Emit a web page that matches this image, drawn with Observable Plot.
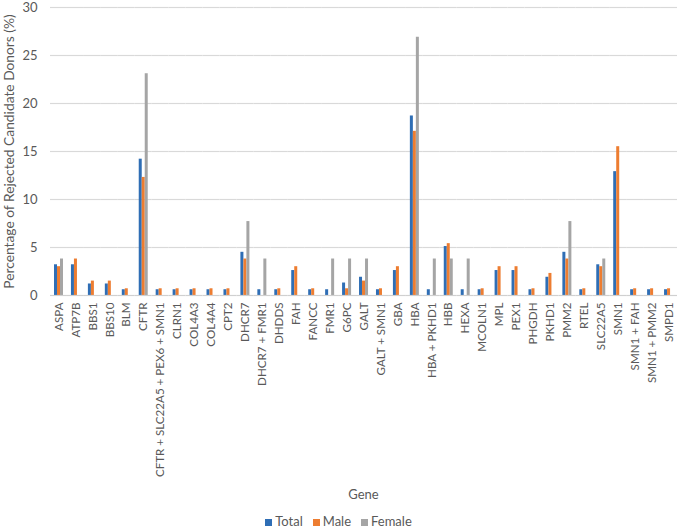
<!DOCTYPE html>
<html>
<head>
<meta charset="utf-8">
<script src="https://cdn.jsdelivr.net/npm/d3@7"></script>
<script src="https://cdn.jsdelivr.net/npm/@observablehq/plot@0.6"></script>
<style>
  html, body { margin: 0; padding: 0; background: #fff; font-family: Lato, "Open Sans", sans-serif; }
  #wrap { width: 677px; height: 528px; position: relative; overflow: hidden; }
  #chart { position: absolute; left: 0; top: 0; }
  #xtitle { position: absolute; left: 50px; width: 627px; top: 486px; text-align: center; font-size: 13px; line-height: 16px; color: #595959; }
  #legend { position: absolute; left: 0; width: 677px; top: 513px; text-align: center; font-size: 13px; line-height: 16px; color: #595959; }
  #legend span.item { margin: 0 5px; }
  #legend span.sw { display: inline-block; width: 7px; height: 7px; margin-right: 3px; }
</style>
</head>
<body>
<div id="wrap">
  <div id="chart"></div>
  <div id="xtitle">Gene</div>
  <div id="legend"></div>
</div>
<script>
const genes = ["ASPA","ATP7B","BBS1","BBS10","BLM","CFTR","CFTR + SLC22A5 + PEX6 + SMN1","CLRN1","COL4A3","COL4A4","CPT2","DHCR7","DHCR7 + FMR1","DHDDS","FAH","FANCC","FMR1","G6PC","GALT","GALT + SMN1","GBA","HBA","HBA + PKHD1","HBB","HEXA","MCOLN1","MPL","PEX1","PHGDH","PKHD1","PMM2","RTEL","SLC22A5","SMN1","SMN1 + FAH","SMN1 + PMM2","SMPD1"];
const series = ["Total","Male","Female"];
const totalVals  = [3.2,3.2,1.2,1.2,0.6,14.2,0.6,0.6,0.6,0.6,0.6,4.5,0.6,0.6,2.6,0.6,0.6,1.3,1.9,0.6,2.6,18.7,0.6,5.1,0.6,0.6,2.6,2.6,0.6,1.9,4.5,0.6,3.2,12.9,0.6,0.6,0.6];
const maleVals   = [3.0,3.8,1.5,1.5,0.7,12.3,0.7,0.7,0.7,0.7,0.7,3.8,0,0.7,3.0,0.7,0,0.7,1.5,0.7,3.0,17.1,0,5.4,0,0.7,3.0,3.0,0.7,2.3,3.8,0.7,3.0,15.5,0.7,0.7,0.7];
const femaleVals = [3.8,0,0,0,0,23.1,0,0,0,0,0,7.7,3.8,0,0,0,3.8,3.8,3.8,0,0,26.9,3.8,3.8,3.8,0,0,0,0,0,7.7,0,3.8,0,0,0,0];
const colors = ["#2F6EB5","#ED7D31","#A5A5A5"];

const data = [];
genes.forEach((g, i) => {
  data.push({gene: g, series: "Total", value: totalVals[i]});
  data.push({gene: g, series: "Male", value: maleVals[i]});
  data.push({gene: g, series: "Female", value: femaleVals[i]});
});

const chart = Plot.plot({
  width: 677,
  height: 484,
  marginLeft: 50,
  marginRight: 0,
  marginTop: 7,
  marginBottom: 189,
  style: {fontFamily: "Lato, 'Open Sans', sans-serif", fontSize: "13px", color: "#595959", background: "transparent", overflow: "visible"},
  fx: {domain: genes, padding: 0, label: null},
  x: {domain: series, paddingInner: 0, paddingOuter: 1.0, axis: null},
  y: {domain: [0, 30], axis: null},
  color: {domain: series, range: colors},
  marks: [
    Plot.gridY([5,10,15,20,25,30], {stroke: "#D9D9D9", strokeOpacity: 1, strokeWidth: 1.2}),
    Plot.axisY({ticks: [0,5,10,15,20,25,30], tickSize: 0, tickPadding: 13, fontSize: 13,
      label: "Percentage of Rejected Candidate Donors (%)", labelAnchor: "center", labelArrow: "none", labelOffset: 46}),
    Plot.axisFx({anchor: "bottom", tickRotate: -90, tickSize: 0, tickPadding: 7, fontSize: 11.6, label: null}),
    Plot.barY(data, {fx: "gene", x: "series", y: "value", fill: "series", inset: 0}),
    Plot.ruleY([0], {stroke: "#D0D0D0", strokeWidth: 1.2})
  ]
});
chart.querySelectorAll("text").forEach(t => {
  if (t.textContent === "Percentage of Rejected Candidate Donors (%)") t.setAttribute("font-size", "13.8");
});
document.getElementById("chart").appendChild(chart);

const leg = document.getElementById("legend");
series.forEach((s, i) => {
  const it = document.createElement("span");
  it.className = "item";
  const sw = document.createElement("span");
  sw.className = "sw";
  sw.style.background = colors[i];
  it.appendChild(sw);
  it.appendChild(document.createTextNode(s));
  leg.appendChild(it);
});
</script>
</body>
</html>
